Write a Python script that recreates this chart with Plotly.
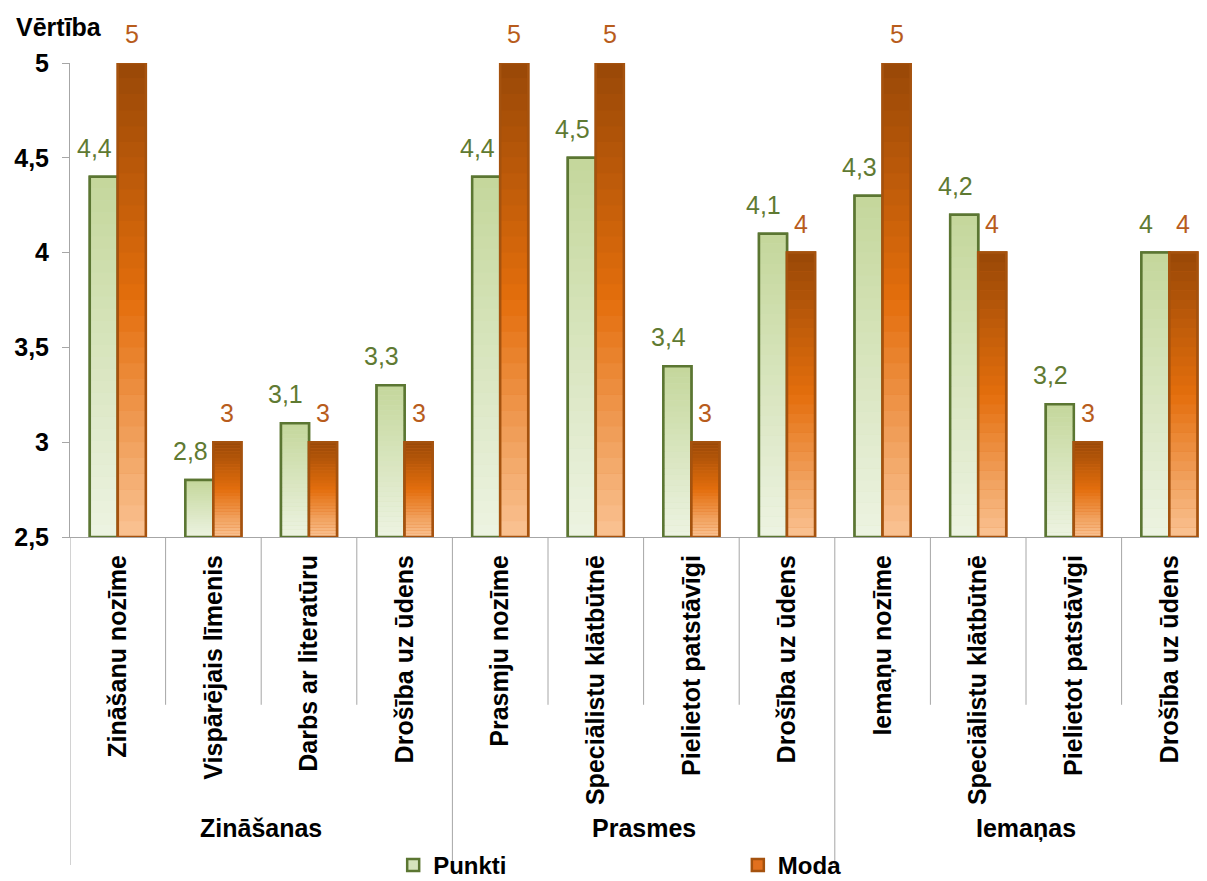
import plotly.graph_objects as go

groups = ["Zināšanas", "Prasmes", "Iemaņas"]
group_sizes = [4, 4, 4]
categories = ["Zināšanu nozīme", "Vispārējais līmenis", "Darbs ar literatūru", "Drošība uz ūdens",
              "Prasmju nozīme", "Speciālistu klātbūtnē", "Pielietot patstāvīgi", "Drošība uz ūdens",
              "Iemaņu nozīme", "Speciālistu klātbūtnē", "Pielietot patstāvīgi", "Drošība uz ūdens"]
punkti = [4.4, 2.8, 3.1, 3.3, 4.4, 4.5, 3.4, 4.1, 4.3, 4.2, 3.2, 4.0]
moda = [5, 3, 3, 3, 5, 5, 3, 4, 5, 4, 3, 4]
series_names = ["Punkti", "Moda"]
y_ticks = [2.5, 3, 3.5, 4, 4.5, 5]

Y_MIN = 2.5
N_SEG = 30
BARGAP = 0.414
FONT = "Liberation Sans, Arial, sans-serif"
AX = "#a6a6a6"


def lerp(c1, c2, t):
    return tuple(c1[i] + (c2[i] - c1[i]) * t for i in range(3))


def green_grad(t):  # t: 0 bottom -> 1 top
    return lerp((237, 243, 226), (196, 215, 155), t)


def orange_grad(t):
    stops = [(0.0, (250, 195, 148)), (0.5, (228, 110, 12)), (1.0, (152, 72, 7))]
    for (t0, c0), (t1, c1) in zip(stops[:-1], stops[1:]):
        if t <= t1:
            return lerp(c0, c1, (t - t0) / (t1 - t0))
    return stops[-1][1]


def rgb(c):
    return "rgb(%d,%d,%d)" % tuple(round(v) for v in c)


def fmt(v):
    return ("%g" % v).replace(".", ",")


xpos = list(range(len(categories)))
fig = go.Figure()
annotations = []

half = (1 - BARGAP) / 4  # centre offset of each bar in a pair (axis units)
specs = [
    (series_names[0], punkti, green_grad, "#5b7632", "#5f7a32", (214, 228, 188), -half, -9, "legend"),
    (series_names[1], moda, orange_grad, "#a5520e", "#b85c1c", (226, 112, 30), half, 0, "legend2"),
]

for name, vals, grad, line_c, text_c, legend_c, dx, xsh, leg in specs:
    fig.add_trace(go.Bar(
        x=xpos, y=[v - Y_MIN for v in vals], base=[Y_MIN] * len(vals), name=name,
        offsetgroup=name, marker=dict(color=rgb(legend_c), line=dict(color=line_c, width=2.5)),
        showlegend=True, legend=leg, hoverinfo="skip",
    ))
    for k in range(N_SEG):
        t = (k + 0.5) / N_SEG
        fig.add_trace(go.Bar(
            x=xpos,
            y=[(v - Y_MIN) / N_SEG * 1.03 for v in vals],
            base=[Y_MIN + (v - Y_MIN) * k / N_SEG for v in vals],
            offsetgroup=name, marker=dict(color=rgb(grad(t)), line=dict(width=0)),
            showlegend=False, hoverinfo="skip",
        ))
    fig.add_trace(go.Bar(
        x=xpos, y=[v - Y_MIN for v in vals], base=[Y_MIN] * len(vals),
        offsetgroup=name,
        marker=dict(color="rgba(0,0,0,0)", line=dict(color=line_c, width=2.5)),
        showlegend=False, hoverinfo="skip", cliponaxis=False,
    ))
    for xi, v in zip(xpos, vals):
        annotations.append(dict(text=fmt(v), x=xi + dx, y=v, xref="x", yref="y",
                                xanchor="center", yanchor="bottom", yshift=13, xshift=xsh,
                                showarrow=False,
                                font=dict(family=FONT, size=25, color=text_c)))

# axis dividers and group labels
shapes = []
start = 0
for g, n in zip(groups, group_sizes):
    shapes.append(dict(type="line", xref="x", yref="paper", x0=start - 0.5, x1=start - 0.5,
                       y0=0, y1=-0.692, line=dict(color=AX, width=1)))
    for j in range(1, n):
        shapes.append(dict(type="line", xref="x", yref="paper", x0=start + j - 0.5,
                           x1=start + j - 0.5, y0=0, y1=-0.354, line=dict(color=AX, width=1)))
    annotations.append(dict(text="<b>%s</b>" % g, xref="x", yref="paper",
                            x=start + (n - 1) / 2, y=-0.614, xanchor="center", yanchor="middle",
                            showarrow=False, font=dict(family=FONT, size=25, color="black")))
    start += n

annotations.append(dict(text="<b>Vērtība</b>", xref="paper", yref="paper", x=-0.049, y=1,
                        xanchor="left", yanchor="bottom", yshift=20, showarrow=False,
                        font=dict(family=FONT, size=25, color="black")))

legend_common = dict(orientation="h", y=-0.693, xanchor="left", yanchor="middle",
                     font=dict(family=FONT, size=24, weight="bold", color="black"),
                     bgcolor="rgba(0,0,0,0)")
fig.update_layout(
    width=1199, height=873,
    barmode="group", bargap=BARGAP, bargroupgap=0,
    plot_bgcolor="white", paper_bgcolor="white",
    margin=dict(l=62, r=0, t=55, b=344, autoexpand=False),
    font=dict(family=FONT, color="black"),
    legend=dict(x=0.286 * 1130 / 1137, **legend_common),
    legend2=dict(x=0.591 * 1130 / 1137, **legend_common),
    shapes=shapes,
    annotations=annotations,
)
fig.update_yaxes(range=[Y_MIN, 5], tickvals=y_ticks, ticktext=[fmt(v) for v in y_ticks],
                 showgrid=False, zeroline=False, automargin=False,
                 showline=True, linecolor=AX, linewidth=1,
                 ticks="outside", ticklen=7, tickcolor=AX, ticklabelstandoff=8,
                 tickfont=dict(family=FONT, size=25, weight="bold", color="black"))
fig.update_xaxes(range=[-0.5, -0.5 + 1137 / 95.6], tickvals=xpos, ticktext=categories,
                 showgrid=False, zeroline=False, showline=True, linecolor=AX, automargin=False,
                 ticks="", tickangle=-90, ticklabelstandoff=7,
                 tickfont=dict(family=FONT, size=25, weight="bold", color="black"))

fig.write_html("out.html")
